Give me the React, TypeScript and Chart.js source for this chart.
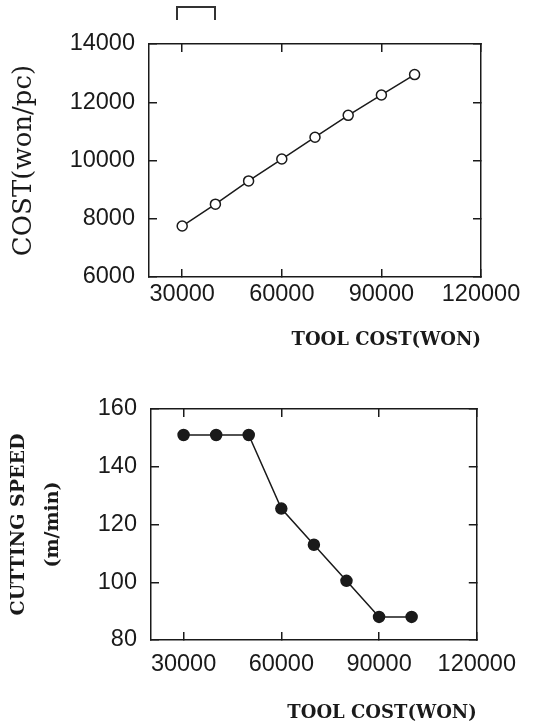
import React, { useEffect, useRef } from 'react';
import { Chart, registerables } from 'chart.js';

Chart.register(...registerables);

// ---- data ----
const toolCost = [30000, 40000, 50000, 60000, 70000, 80000, 90000, 100000];
const unitCost = [7750, 8500, 9300, 10050, 10800, 11550, 12250, 12950];
const cuttingSpeed = [151, 151, 151, 125.5, 113, 100.5, 88, 88];
const xTickValues = [30000, 60000, 90000, 120000];
const costTickValues = [6000, 8000, 10000, 12000, 14000];
const speedTickValues = [80, 100, 120, 140, 160];
const xTitle = 'TOOL COST(WON)';
const costTitle = 'COST(won/pc)';
const speedTitle = ['CUTTING SPEED', '(m/min)'];

const W = 534;
const INK = '#1a1a1a';
const TICK_FONT = { family: '"Liberation Sans", Arial, sans-serif', size: 23.5 };

type Opts = {
  canvas: HTMLCanvasElement;
  height: number;
  area: { left: number; right: number; top: number; bottom: number };
  values: number[];
  yTicks: number[];
  yTitle: string | string[];
  yTitleFont: any;
  yTitlePadTop: number;
  xLabelPad: number;
  xAxisH: number;
  xTitlePadBottom: number;
  filled: boolean;
  pointR: number;
};

function setTicks(list: number[]) {
  return (scale: any) => {
    scale.ticks = list.map((v) => ({ value: v }));
  };
}

function build(o: Opts) {
  const yMin = o.yTicks[0];
  const yMax = o.yTicks[o.yTicks.length - 1];
  const xMin = 20000;
  const xMax = xTickValues[xTickValues.length - 1];
  const grid = { drawOnChartArea: false, drawTicks: true, tickLength: -8, color: INK, lineWidth: 1.5 };
  const border = { display: true, color: INK, width: 1.5 };
  return new Chart(o.canvas, {
    type: 'line',
    data: {
      datasets: [
        {
          data: toolCost.map((x, i) => ({ x, y: o.values[i] })),
          borderColor: INK,
          borderWidth: 1.5,
          pointRadius: o.pointR,
          pointBorderWidth: 1.5,
          pointBorderColor: INK,
          pointBackgroundColor: o.filled ? INK : '#ffffff',
          tension: 0,
          fill: false,
        },
      ],
    },
    options: {
      animation: false,
      responsive: false,
      devicePixelRatio: 1,
      layout: {
        padding: {
          left: 0,
          top: o.area.top,
          right: W - o.area.right,
          bottom: o.height - o.area.bottom - o.xAxisH,
        },
      },
      plugins: { legend: { display: false }, tooltip: { enabled: false } },
      scales: {
        x: {
          type: 'linear',
          position: 'bottom',
          min: xMin,
          max: xMax,
          afterBuildTicks: setTicks(xTickValues),
          afterFit: (s: any) => {
            s.height = o.xAxisH;
          },
          grid,
          border,
          ticks: {
            color: INK,
            font: TICK_FONT,
            padding: o.xLabelPad,
            maxRotation: 0,
            autoSkip: false,
            callback: (v: any) => String(v),
          },
          title: {
            display: true,
            text: xTitle,
            align: 'end',
            color: INK,
            font: { family: '"DejaVu Serif", serif', size: 18, weight: 'bold', lineHeight: 1.2 },
            padding: { top: 0, bottom: o.xTitlePadBottom },
          },
        },
        x2: {
          type: 'linear',
          position: 'top',
          min: xMin,
          max: xMax,
          afterBuildTicks: setTicks(xTickValues),
          afterFit: (s: any) => {
            s.height = 0;
          },
          grid,
          border,
          ticks: { display: false },
        },
        y: {
          type: 'linear',
          position: 'left',
          min: yMin,
          max: yMax,
          afterBuildTicks: setTicks(o.yTicks),
          afterFit: (s: any) => {
            s.width = o.area.left;
          },
          grid,
          border,
          ticks: {
            color: INK,
            font: TICK_FONT,
            padding: 22,
            autoSkip: false,
            callback: (v: any) => String(v),
          },
          title: {
            display: true,
            text: o.yTitle,
            color: INK,
            font: o.yTitleFont,
            padding: { top: o.yTitlePadTop, bottom: 0 },
          },
        },
        y2: {
          type: 'linear',
          position: 'right',
          min: yMin,
          max: yMax,
          afterBuildTicks: setTicks(o.yTicks),
          afterFit: (s: any) => {
            s.width = 0;
          },
          grid,
          border,
          ticks: { display: false },
        },
      },
    } as any,
  });
}

export default function App() {
  const topRef = useRef<HTMLCanvasElement>(null);
  const botRef = useRef<HTMLCanvasElement>(null);

  useEffect(() => {
    const c1 = build({
      canvas: topRef.current!,
      height: 360,
      area: { left: 149, right: 481, top: 44, bottom: 277 },
      values: unitCost,
      yTicks: costTickValues,
      yTitle: costTitle,
      yTitleFont: { family: '"DejaVu Serif", serif', size: 26, lineHeight: 1.2 },
      yTitlePadTop: 9,
      xLabelPad: 11,
      xAxisH: 80,
      xTitlePadBottom: 6,
      filled: false,
      pointR: 5,
    });
    const c2 = build({
      canvas: botRef.current!,
      height: 366,
      area: { left: 151, right: 482, top: 49, bottom: 280 },
      values: cuttingSpeed,
      yTicks: speedTickValues,
      yTitle: speedTitle,
      yTitleFont: { family: '"DejaVu Serif", serif', size: 19, weight: 'bold', lineHeight: 1.8 },
      yTitlePadTop: 2,
      xLabelPad: 18,
      xAxisH: 84,
      xTitlePadBottom: 0,
      filled: true,
      pointR: 5.5,
    });
    return () => {
      c1.destroy();
      c2.destroy();
    };
  }, []);

  return (
    <div style={{ position: 'absolute', left: 0, top: 0, width: W, height: 726, background: '#fff' }}>
      <div
        style={{
          position: 'absolute',
          left: 176,
          top: 6,
          width: 36,
          height: 12,
          borderTop: '2px solid #333',
          borderLeft: '2px solid #333',
          borderRight: '2px solid #333',
        }}
      />
      <canvas ref={topRef} width={W} height={360} style={{ position: 'absolute', left: 0, top: 0 }} />
      <canvas ref={botRef} width={W} height={366} style={{ position: 'absolute', left: 0, top: 360 }} />
    </div>
  );
}
